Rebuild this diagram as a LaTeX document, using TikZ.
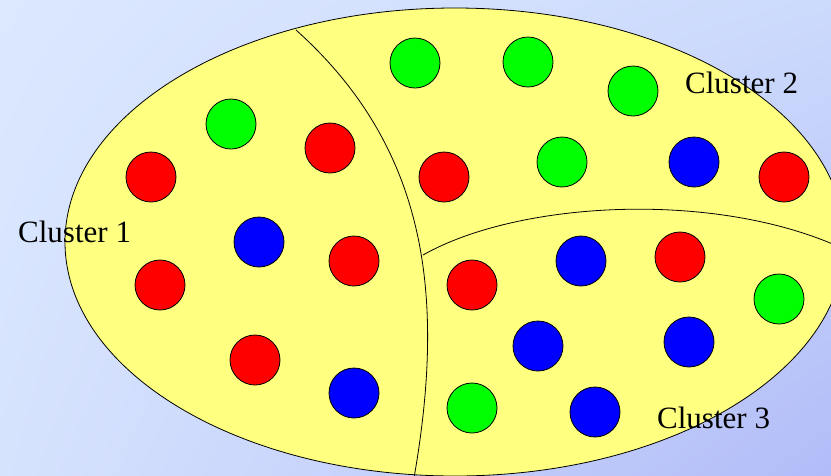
\documentclass[tikz,border=0pt]{standalone}
\usepackage{fontspec}
\setmainfont{Liberation Serif}
\usetikzlibrary{calc, shadings}
\definecolor{pool}{HTML}{FFFF80}
\definecolor{ptred}{HTML}{FF0000}
\definecolor{ptgreen}{HTML}{00FF00}
\definecolor{ptblue}{HTML}{0000FF}
\definecolor{bgA}{HTML}{DCE8FF}
\definecolor{bgB}{HTML}{CCDAFC}
\definecolor{bgC}{HTML}{D6E3FD}
\definecolor{bgD}{HTML}{B2BCF8}
\tikzset{
  pt/.style={draw=black, line width=0.8pt},
  tag/.style={font=\fontsize{31}{37}\selectfont, anchor=base west, inner sep=0pt},
}
\begin{document}
\begin{tikzpicture}[x=1pt, y=-1pt]
  \useasboundingbox (0,0) rectangle (831,475);
  \clip (0,0) rectangle (831,475);
  % background
  \shade[upper left=bgA, upper right=bgB, lower left=bgC, lower right=bgD]
    (0,0) rectangle (831,475);
  % whole data set
  \filldraw[fill=pool, draw=black, line width=0.8pt]
    (455,242) ellipse [x radius=390, y radius=234];
  % borders between the clusters
  \coordinate (top) at (296,30);
  \coordinate (bottom) at (414,478);
  \coordinate (fork) at (423,255);
  \coordinate (right) at (846,250);
  \draw[line width=0.8pt] (top) .. controls (430,150) and (445,300) .. (bottom);
  \draw[line width=0.8pt] (fork) .. controls (520,200) and (720,190) .. (right);
  % Cluster 1
  \foreach \x/\y/\c in {231/124/ptgreen, 151/177/ptred, 330/148/ptred,
      259/242/ptblue, 354/261/ptred, 160/285/ptred, 255/360/ptred, 354/393/ptblue}
    \filldraw[pt, fill=\c] (\x,\y) circle [radius=25];
  % Cluster 2
  \foreach \x/\y/\c in {415/63/ptgreen, 528/62/ptgreen, 633/91/ptgreen,
      444/177/ptred, 562/162/ptgreen, 694/162/ptblue, 784/177/ptred}
    \filldraw[pt, fill=\c] (\x,\y) circle [radius=25];
  % Cluster 3
  \foreach \x/\y/\c in {472/285/ptred, 581/261/ptblue, 680/257/ptred,
      779/299/ptgreen, 538/346/ptblue, 689/342/ptblue, 472/408/ptgreen, 595/412/ptblue}
    \filldraw[pt, fill=\c] (\x,\y) circle [radius=25];
  \node[tag] (lbl1) at (18,242) {Cluster 1};
  \node[tag] (lbl2) at (685,93) {Cluster 2};
  \node[tag] (lbl3) at (657,428) {Cluster 3};
\end{tikzpicture}
\end{document}
